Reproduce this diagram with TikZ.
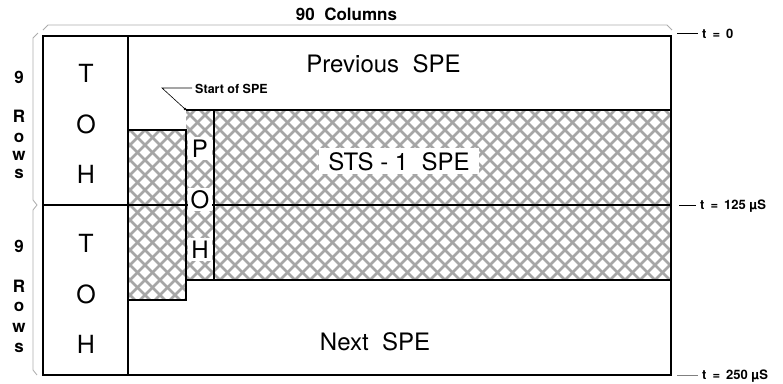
\documentclass[tikz,border=0pt]{standalone}
\usepackage{fontspec}
\setmainfont{TeX Gyre Heros}
\tikzset{
  bigtxt/.style={font=\fontsize{24}{28}\selectfont, inner sep=0pt, anchor=base},
  tohtxt/.style={font=\fontsize{25}{30}\selectfont, inner sep=0pt, anchor=base},
  pohtxt/.style={font=\fontsize{24}{28}\selectfont, inner xsep=0pt, inner ysep=2.5pt, minimum width=24pt, fill=white, anchor=base},
  rowtxt/.style={font=\bfseries\fontsize{17}{19}\selectfont, inner sep=0pt, anchor=base},
  ttxt/.style={font=\bfseries\fontsize{13}{15}\selectfont, inner xsep=4pt, inner ysep=0pt, anchor=base west},
  bracket/.style={gray!65, line width=0.8pt},
  framebox/.style={line width=2pt},
  divline/.style={line width=1.6pt},
  edgeline/.style={line width=1.1pt},
  hatchline/.style={gray!70, line width=2.8pt},
  leader/.style={line width=0.6pt},
}
\begin{document}
\begin{tikzpicture}[x=1pt,y=-1pt]
\useasboundingbox (0,0) rectangle (783,383);
% hatched SPE area
\begin{scope}
  \clip (128,130) -- (186,130) -- (186,110) -- (671,110) -- (671,280) -- (186,280) -- (186,300) -- (128,300) -- cycle;
  \foreach \a in {-200,-185,...,900} {
    \draw[hatchline] (\a,100) -- ++(210,210);
    \draw[hatchline] (\a,100) -- ++(-210,210);
  }
\end{scope}
% SPE boundaries
\draw[edgeline] (128,130) -- (186,130) -- (186,300) -- (128,300);
\draw[edgeline] (186,110) -- (671,110);
\draw[edgeline] (186,280) -- (671,280);
\draw[edgeline] (214,110) -- (214,280);
% frame
\draw[divline] (128,36) -- (128,375);
\draw[framebox] (43,205) -- (671,205);
\draw[framebox] (43,36) rectangle (671,375);
% brackets
\draw[bracket] (43,30) -- (48,25) -- (667,25) -- (672,30);
\draw[bracket] (38,33) -- (33,38) -- (33,200) -- (37,205) -- (33,210) -- (33,370) -- (37,375);
% titles
\node[font=\bfseries\fontsize{17}{20}\selectfont, inner sep=0pt, anchor=base] (cols) at (346.5,20) {90\ \ Columns};
\node[bigtxt] (prev) at (383.5,72) {Previous\ \ SPE};
\node[bigtxt, fill=white, inner xsep=9pt, inner ysep=4pt] (sts) at (399,170) {STS - 1\ \ SPE};
\node[bigtxt] (next) at (375,350) {Next\ \ SPE};
% TOH
\node[tohtxt] (t1) at (86,82) {T};
\node[tohtxt] (o1) at (86,133) {O};
\node[tohtxt] (h1) at (86,183) {H};
\node[tohtxt] (t2) at (86,252) {T};
\node[tohtxt] (o2) at (86,303) {O};
\node[tohtxt] (h2) at (86,353) {H};
% POH
\node[pohtxt] (pp) at (200,157) {P};
\node[pohtxt] (po) at (200,208) {O};
\node[pohtxt] (ph) at (200,258) {H};
% rows labels
\node[rowtxt] (n1) at (19,83) {9};
\node[rowtxt] (r1) at (19,122) {R};
\node[rowtxt] (oo1) at (19,142) {o};
\node[rowtxt] (w1) at (19,160) {w};
\node[rowtxt] (s1) at (19,178) {s};
\node[rowtxt] (n2) at (19,252) {9};
\node[rowtxt] (r2) at (19,292) {R};
\node[rowtxt] (oo2) at (19,311) {o};
\node[rowtxt] (w2) at (19,332) {w};
\node[rowtxt] (s2) at (19,352) {s};
% start of SPE
\fill (185,109) circle (1.4);
\coordinate (sspe) at (185,109);
\coordinate (bend) at (162,88);
\node[font=\bfseries\fontsize{12.5}{14}\selectfont, inner xsep=3pt, inner ysep=0pt, anchor=base west] (startlbl) at (192,93) {Start of SPE};
\draw[leader] (sspe) -- (bend) -- (bend -| startlbl.west);
% time labels
\coordinate (tk0) at (677,33);
\coordinate (tk1) at (679,205);
\coordinate (tk2) at (677,375);
\node[ttxt] (t0) at (698,38) {t\hspace{6pt}=\hspace{6pt}0};
\node[ttxt] (t125) at (696,209) {t\hspace{6pt}=\hspace{6pt}125 µS};
\node[ttxt] (t250) at (698,379) {t\hspace{6pt}=\hspace{6pt}250 µS};
\draw[leader] (tk0) -- (tk0 -| t0.west);
\draw[leader] (tk1) -- (tk1 -| t125.west);
\draw[leader, gray] (tk2) -- (tk2 -| t250.west);
\end{tikzpicture}
\end{document}
